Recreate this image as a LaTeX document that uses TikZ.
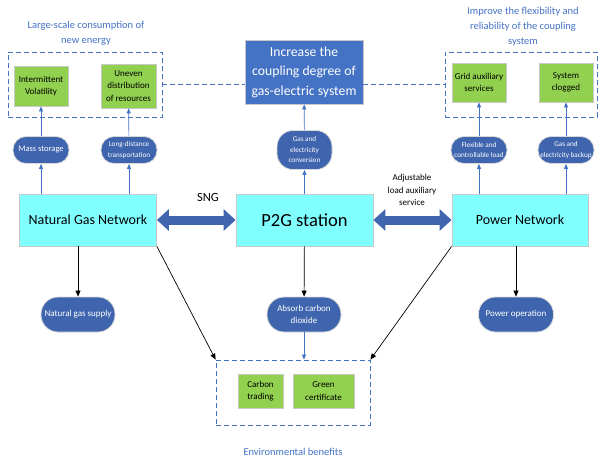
\documentclass[tikz,border=0pt]{standalone}
\usepackage{fontspec}
\setmainfont{Carlito}
\usetikzlibrary{arrows.meta,positioning}
\definecolor{darkbl}{HTML}{3F65AE}
\definecolor{midbl}{HTML}{4472C4}
\definecolor{leaf}{HTML}{92D050}
\definecolor{aqua}{HTML}{80FFFF}
\definecolor{rim}{HTML}{C8C8C8}

\tikzset{leafbox/.style={draw=rim, fill=leaf, line width=0.8pt, minimum width=54pt, minimum height=40pt, align=center, inner sep=1pt, font=\fontsize{9}{12.5}\selectfont}}
\tikzset{oval/.style={draw=rim!70, fill=darkbl, text=white, line width=0.8pt, rounded corners=13pt, minimum width=56pt, minimum height=27pt, align=center, inner sep=1pt, font=\fontsize{7.2}{10.5}\selectfont}}
\tikzset{net/.style={draw=rim, fill=aqua, line width=0.8pt, minimum width=137pt, minimum height=52pt, font=\fontsize{14}{16}\selectfont}}
\tikzset{grp/.style={draw=midbl, dash pattern=on 5pt off 3pt, line width=0.8pt, minimum width=154pt, minimum height=65pt}}
\tikzset{header/.style={text=midbl, align=center, font=\fontsize{10.5}{15}\selectfont}}

\begin{document}
\begin{tikzpicture}[x=1pt,y=-1pt]
\tikzstyle{uparr}=[midbl, line width=0.7pt, -{Triangle[length=5pt,width=4pt]}]
\tikzstyle{downarr}=[black, line width=0.7pt, -{Triangle[length=6pt,width=5pt]}]
\tikzstyle{dblarr}=[darkbl, line width=9pt, {Triangle[length=12pt,width=21pt]}-{Triangle[length=12pt,width=21pt]}]
\useasboundingbox (0,0) rectangle (598,461);

\node[grp] (lgrp) at (85,84.5) {};
\node[grp, minimum width=152pt] (rgrp) at (521,84.5) {};
\node[grp] (env) at (293,392.5) {};

\node[header] (lhead) at (86,33) {Large-scale consumption of\\new energy};
\node[header] (rhead) at (523,27) {Improve the flexibility and\\reliability of the coupling\\system};
\node[header] (ehead) at (293,452) {Environmental benefits};

\node[leafbox] (iv) at (41,86) {Intermittent\\Volatility};
\node[leafbox, minimum width=55pt, minimum height=44pt] (udr) at (128.5,86) {Uneven\\distribution\\of resources};
\node[leafbox, minimum height=39pt] (gas) at (479,82.5) {Grid auxiliary\\services};
\node[leafbox, minimum height=39pt] (sc) at (566,82.5) {System\\clogged};
\node[leafbox, minimum width=45pt, minimum height=34pt] (ct) at (260.5,391) {Carbon\\trading};
\node[leafbox, minimum width=61pt, minimum height=34pt] (gc) at (323.5,391) {Green\\certificate};

\node[draw=rim, fill=midbl, text=white, line width=0.8pt, minimum width=118pt, minimum height=64pt, align=center, font=\fontsize{13.7}{19.5}\selectfont] (goal) at (304,72) {Increase the\\coupling degree of\\gas-electric system};

\node[oval, font=\fontsize{8.5}{10}\selectfont] (ms) at (41,150) {Mass storage};
\node[oval] (ldt) at (129,150) {Long-distance\\transportation};
\node[oval, rounded corners=16pt, minimum width=55pt, minimum height=39pt] (gec) at (304.5,150) {Gas and\\electricity\\conversion};
\node[oval] (fcl) at (479,150) {Flexible and\\controllable load};
\node[oval] (geb) at (566,150) {Gas and\\electricity backup};

\node[net] (ngn) at (88,220) {Natural Gas Network};
\node[net, font=\fontsize{18.5}{20}\selectfont] (p2g) at (304.5,220) {P2G station};
\node[net, minimum width=136pt] (pn) at (520,220) {Power Network};

\node[font=\fontsize{12.5}{14}\selectfont] (sng) at (208,197) {SNG};
\node[align=center, font=\fontsize{9}{12.8}\selectfont] (als) at (412,190) {Adjustable\\load auxiliary\\service};

\node[oval, rounded corners=17pt, minimum width=74pt, minimum height=35pt, font=\fontsize{9}{12.5}\selectfont] (ngs) at (78,314.5) {Natural gas supply};
\node[oval, rounded corners=17pt, minimum width=74pt, minimum height=35pt, font=\fontsize{9}{12.5}\selectfont] (acd) at (304,314.5) {Absorb carbon\\dioxide};
\node[oval, rounded corners=17pt, minimum width=75pt, minimum height=35pt, font=\fontsize{9}{12.5}\selectfont] (po) at (516,314.5) {Power operation};

\draw[midbl, line width=0.8pt, dash pattern=on 5pt off 3pt] (lgrp.east) -- (goal.west |- lgrp.east);
\draw[midbl, line width=0.8pt, dash pattern=on 5pt off 3pt] (goal.east |- rgrp.west) -- (rgrp.west);

\draw[uparr] (ms) -- (iv);
\draw[uparr] (ldt) -- (udr);
\draw[uparr] (gec) -- (goal);
\draw[uparr] (fcl) -- (gas);
\draw[uparr] (geb) -- (sc);
\draw[uparr] (ms |- ngn.north) -- (ms);
\draw[uparr] (ldt |- ngn.north) -- (ldt);
\draw[uparr] (p2g) -- (gec);
\draw[uparr] (fcl |- pn.north) -- (fcl);
\draw[uparr] (geb |- pn.north) -- (geb);

\draw[dblarr] (ngn) -- (p2g);
\draw[dblarr] (p2g) -- (pn);

\draw[downarr] (ngs |- ngn.south) -- (ngs);
\draw[downarr] (p2g) -- (acd);
\draw[downarr] (po |- pn.south) -- (po);
\draw[downarr] (ngn.south east) -- (env.north west);
\draw[downarr] (pn.south west) -- (env.north east);
\draw[uparr] (acd) -- (acd |- env.north);
\end{tikzpicture}
\end{document}
